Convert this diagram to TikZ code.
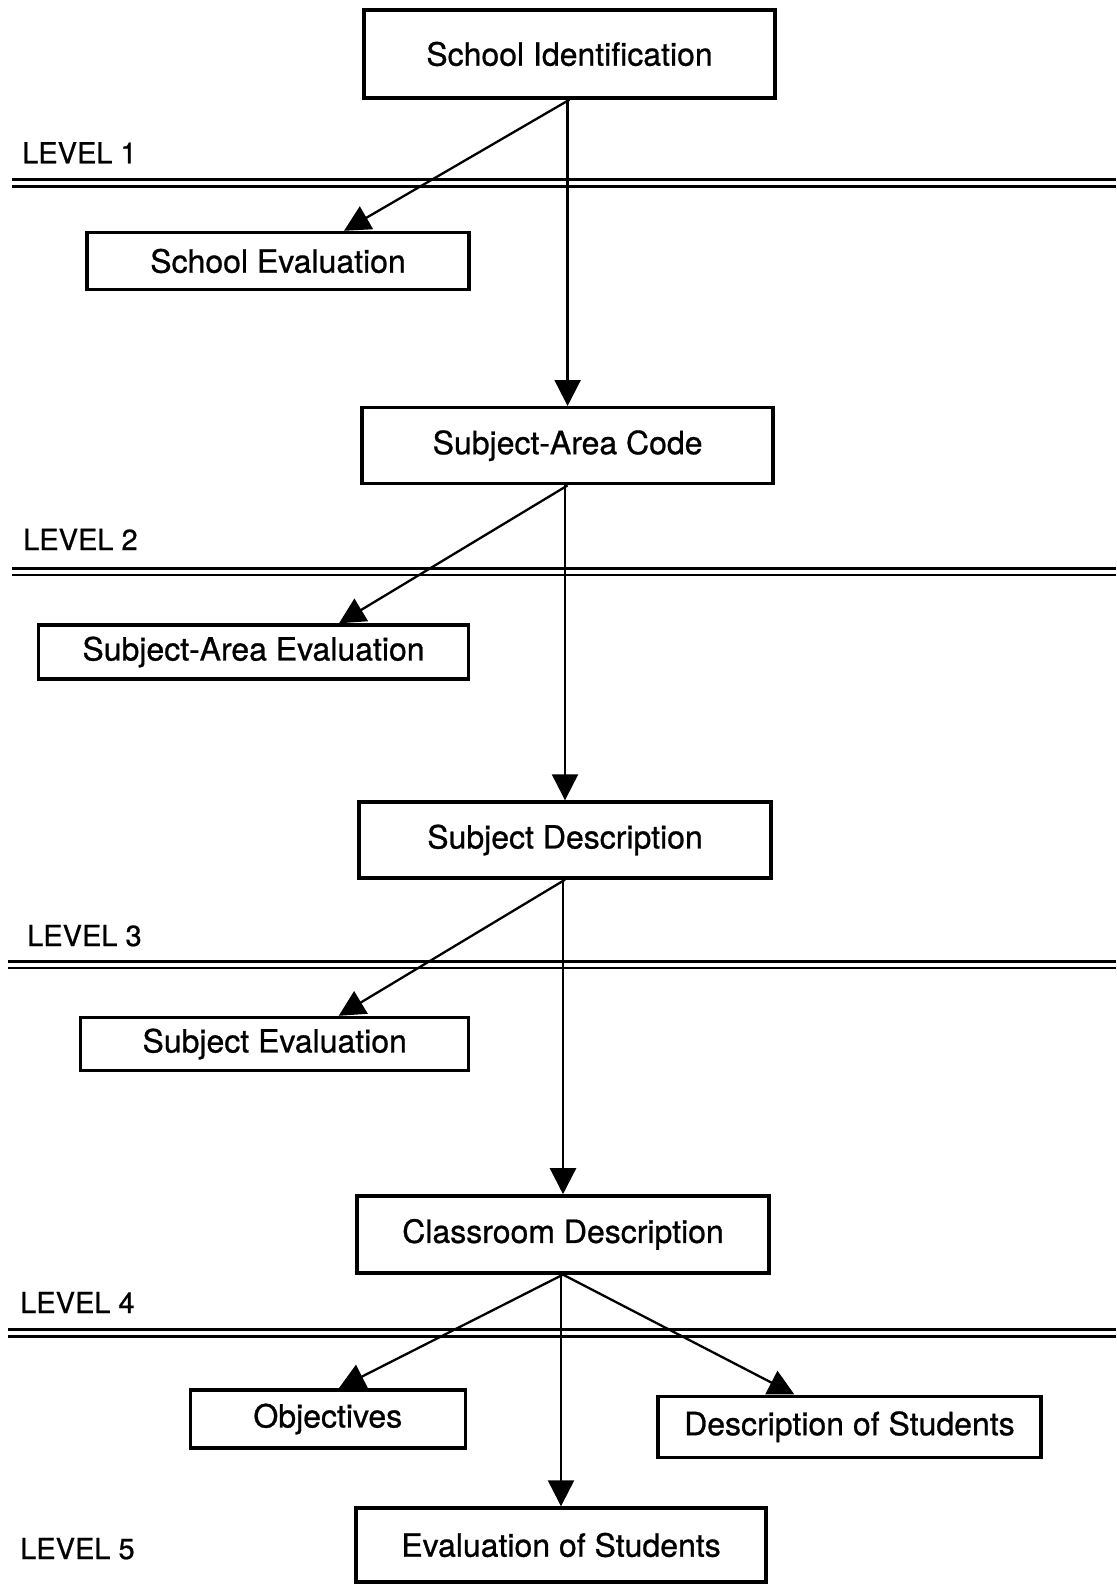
\documentclass[tikz,border=0pt]{standalone}
\usepackage{fontspec}
\setmainfont[FakeBold=0.8]{TeX Gyre Heros}
\usetikzlibrary{arrows.meta,calc}
\begin{document}
\begin{tikzpicture}[x=1pt,y=-1pt,
    box/.style={draw,line width=3.4pt,inner sep=0pt,font=\fontsize{32}{38}\selectfont},
    arr/.style={line width=2.3pt,-{Triangle[length=26pt,width=26pt]}},
    lev/.style={anchor=base west,inner sep=0pt,font=\fontsize{29}{34}\selectfont},
    rule/.style={double,double distance=3.6pt,line width=2.8pt}]
  \useasboundingbox (0,0) rectangle (1116,1586);
  % level separators
  \draw[rule] (12,183) -- (1116,183);
  \draw[rule] (12,571.8) -- (1116,571.8);
  \draw[rule] (8,964.7) -- (1116,964.7);
  \draw[rule] (8,1333) -- (1116,1333);
  \node[lev] (lev1) at (22,163.3) {LEVEL 1};
  \node[lev] (lev2) at (23,550) {LEVEL 2};
  \node[lev] (lev3) at (27,946) {LEVEL 3};
  \node[lev] (lev4) at (20,1313) {LEVEL 4};
  \node[lev] (lev5) at (20,1559) {LEVEL 5};
  % boxes
  \node[box,minimum width=411pt,minimum height=88pt] (ident) at (569.5,54) {School Identification};
  \node[box,minimum width=382pt,minimum height=57pt] (schev) at (278,261) {School Evaluation};
  \node[box,minimum width=411pt,minimum height=76pt] (sacode) at (567.6,445.7) {Subject-Area Code};
  \node[box,minimum width=430pt,minimum height=54pt] (saev) at (253.5,652) {Subject-Area Evaluation};
  \node[box,minimum width=412pt,minimum height=76pt] (subdesc) at (565,840) {Subject Description};
  \node[box,minimum width=388pt,minimum height=53pt] (subev) at (274.7,1044) {Subject Evaluation};
  \node[box,minimum width=412pt,minimum height=77pt] (classdesc) at (563,1234.4) {Classroom Description};
  \node[box,minimum width=275pt,minimum height=58pt] (obj) at (327.8,1419) {Objectives};
  \node[box,minimum width=383pt,minimum height=61pt] (descst) at (849.4,1426.7) {Description of Students};
  \node[box,minimum width=410pt,minimum height=74pt] (evst) at (561,1545) {Evaluation of Students};
  % connectors
  \draw[arr] (ident.south) -- ($(schev.north)+(66,0)$);
  \draw[arr] (ident.south -| sacode.north) -- (sacode.north);
  \draw[arr] (sacode.south) -- ($(saev.north)+(85.5,0)$);
  \draw[arr] (sacode.south -| subdesc.north) -- (subdesc.north);
  \draw[arr] (subdesc.south) -- ($(subev.north)+(64,0)$);
  \draw[arr] (subdesc.south -| classdesc.north) -- (classdesc.north);
  \draw[arr] (classdesc.south) -- ($(obj.north)+(11,0)$);
  \draw[arr] (classdesc.south) -- ($(descst.north)+(-55,0)$);
  \draw[arr] (classdesc.south -| evst.north) -- (evst.north);
\end{tikzpicture}
\end{document}
